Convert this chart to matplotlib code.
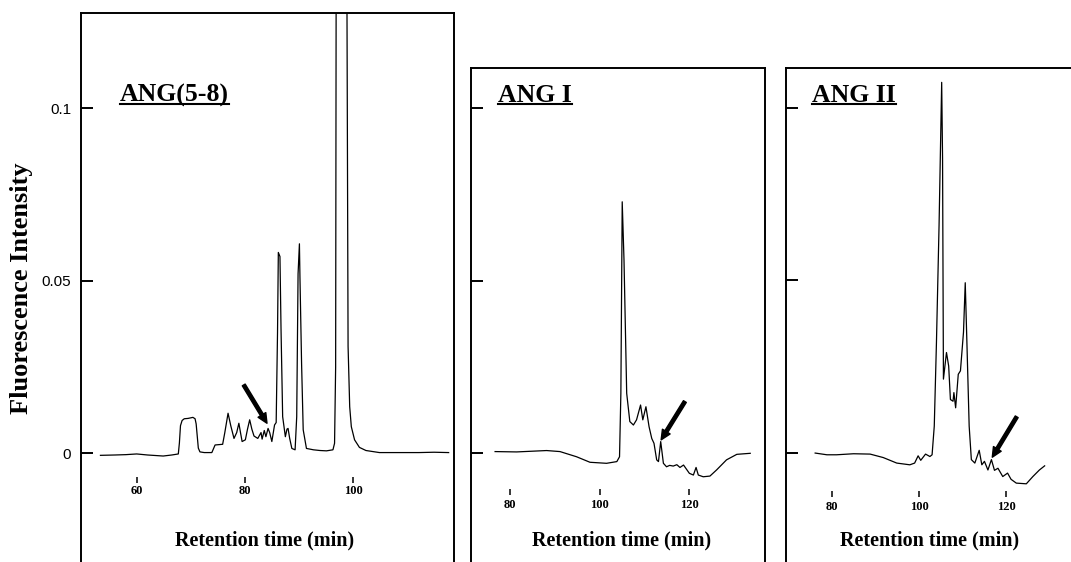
import matplotlib

matplotlib.use("Agg")
import matplotlib.pyplot as plt
from matplotlib.lines import Line2D

# ============================================================================
# Data
# ============================================================================

# ANG(5-8)
t_ang58 = [53.3, 56.0, 58.0, 60.0, 62.0, 64.9, 66.5, 67.7, 67.9, 68.1, 68.4, 68.8,
           69.5, 70.4, 70.8, 71.0, 71.2, 71.4, 71.7, 72.5, 73.9, 74.5, 75.9, 76.3,
           76.9, 77.4, 78.0, 78.5, 78.9, 79.2, 79.5, 80.1, 80.5, 80.9, 81.3, 81.7,
           82.4, 83.0, 83.2, 83.6, 83.9, 84.3, 84.6, 85.0, 85.5, 85.8, 86.05, 86.2,
           86.5, 86.7, 87.0, 87.5, 87.8, 88.0, 88.3, 88.7, 89.3, 89.6, 89.85, 90.1,
           90.2, 90.5, 90.8, 91.4, 92.7, 93.9, 95.1, 96.3, 96.6, 96.8, 96.95, 98.75,
           99.1, 99.4, 99.7, 100.3, 101.2, 102.4, 104.9, 108.0, 112.2, 115.0, 117.7]
f_ang58 = [-0.0006, -0.0005, -0.0004, -0.0002, -0.0005, -0.0008, -0.0005, -0.0002,
           0.0030, 0.0080, 0.0095, 0.0100, 0.0101, 0.0104, 0.0100, 0.0085, 0.0050,
           0.0015, 0.0004, 0.0002, 0.0002, 0.0024, 0.0026, 0.0060, 0.0116, 0.0080,
           0.0043, 0.0060, 0.0087, 0.0060, 0.0034, 0.0039, 0.0070, 0.0097, 0.0070,
           0.0050, 0.0043, 0.0060, 0.0041, 0.0066, 0.0048, 0.0072, 0.0060, 0.0034,
           0.0082, 0.0089, 0.0350, 0.0582, 0.0570, 0.0358, 0.0106, 0.0048, 0.0070,
           0.0072, 0.0043, 0.0014, 0.0010, 0.0106, 0.0520, 0.0607, 0.0510, 0.0260,
           0.0068, 0.0014, 0.0010, 0.0008, 0.0007, 0.0010, 0.0029, 0.0250, 0.2000,
           0.2000, 0.0310, 0.0135, 0.0077, 0.0039, 0.0017, 0.0008, 0.0002, 0.0002,
           0.0002, 0.0003, 0.0002]

# ANG I
t_ang1 = [76.6, 81.4, 88.1, 91.1, 94.8, 97.8, 101.5, 103.8, 104.4, 104.7, 105.0,
          105.4, 106.0, 106.7, 107.5, 108.2, 109.1, 109.6, 110.3, 111.0, 111.6,
          112.1, 112.7, 113.1, 113.6, 114.2, 114.9, 115.6, 116.4, 117.2, 117.9,
          118.7, 120.0, 120.9, 121.5, 122.0, 123.1, 124.6, 126.1, 128.3, 130.6, 133.6]
f_ang1 = [0.0005, 0.0004, 0.0008, 0.0005, -0.0010, -0.0026, -0.0029, -0.0024,
          -0.0010, 0.0174, 0.0729, 0.0560, 0.0174, 0.0092, 0.0082, 0.0097, 0.0140,
          0.0097, 0.0135, 0.0077, 0.0043, 0.0029, -0.0019, -0.0024, 0.0034, -0.0029,
          -0.0039, -0.0035, -0.0037, -0.0033, -0.0041, -0.0034, -0.0058, -0.0063,
          -0.0041, -0.0063, -0.0068, -0.0066, -0.0048, -0.0019, -0.0003, 0.0000]

# ANG II
t_ang2 = [76.2, 78.9, 81.1, 85.0, 88.8, 91.8, 94.9, 97.9, 99.0, 99.8, 100.4, 101.5,
          102.5, 103.0, 103.5, 104.0, 104.6, 105.2, 105.4, 105.6, 106.3, 106.8,
          107.2, 107.8, 108.0, 108.4, 109.0, 109.5, 110.2, 110.6, 111.0, 111.5,
          112.0, 112.8, 113.8, 114.4, 115.0, 115.8, 116.6, 117.3, 118.1, 119.2,
          120.3, 121.1, 122.3, 124.6, 126.1, 127.6, 128.8]
f_ang2 = [0.0000, -0.0005, -0.0005, -0.0002, -0.0003, -0.0013, -0.0029, -0.0034,
          -0.0029, -0.0008, -0.0021, -0.0003, -0.0010, -0.0005, 0.0078, 0.0320,
          0.0660, 0.1073, 0.0854, 0.0214, 0.0291, 0.0252, 0.0155, 0.0150, 0.0175,
          0.0131, 0.0228, 0.0238, 0.0350, 0.0493, 0.0311, 0.0078, -0.0019, -0.0029,
          0.0008, -0.0034, -0.0024, -0.0049, -0.0019, -0.0050, -0.0044, -0.0068,
          -0.0058, -0.0076, -0.0087, -0.0089, -0.0068, -0.0049, -0.0037]

titles = ["ANG(5-8)", "ANG I", "ANG II"]
x_ticks = [[60, 80, 100], [80, 100, 120], [80, 100, 120]]
y_ticks = [0, 0.05, 0.1]
y_tick_labels = ["0", "0.05", "0.1"]

# arrows (tail -> head) marking the product peak
arrows = [((79.8, 0.0198), (84.1, 0.0087)),
          ((119.0, 0.0150), (113.7, 0.0039)),
          ((122.4, 0.0105), (116.8, -0.0012))]

# ============================================================================
# Layout (pixel geometry of the scanned figure)
# ============================================================================

W, H = 1071, 562
SERIF = "Liberation Serif"
SANS = "Liberation Sans"

panels = [
    dict(t=t_ang58, f=f_ang58, box=(81, 453.5, 13.3, 625.8), xlim=(49.7, 118.6),
         ylim=(-0.05, 0.1275), tick_y=-0.0087, tick_pad=1.5, title_x=120,
         xlabel_x=265),
    dict(t=t_ang1, f=f_ang1, box=(470.7, 765, 68.3, 625.8), xlim=(71.15, 136.9),
         ylim=(-0.05, 0.1116), tick_y=-0.0121, tick_pad=3, title_x=498,
         xlabel_x=622),
    dict(t=t_ang2, f=f_ang2, box=(786.5, 1085, 67.5, 625.8), xlim=(69.63, 138.05),
         ylim=(-0.05, 0.1116), tick_y=-0.0126, tick_pad=3, title_x=812,
         xlabel_x=930),
]

fig = plt.figure(figsize=(W / 100, H / 100), dpi=100)

title_texts = []
for i, p in enumerate(panels):
    left, right, top, bottom = p["box"]
    ax = fig.add_axes([left / W, 1 - bottom / H, (right - left) / W, (bottom - top) / H])
    ax.plot(p["t"], p["f"], color="black", lw=0.9)
    ax.set_xlim(*p["xlim"])
    ax.set_ylim(*p["ylim"])

    for side in ["left", "top", "right"]:
        ax.spines[side].set_linewidth(1.4)
    ax.spines["bottom"].set_position(("data", p["tick_y"]))
    ax.spines["bottom"].set_color("none")

    ax.set_xticks(x_ticks[i])
    ax.set_xticklabels([str(v) for v in x_ticks[i]], fontfamily=SERIF,
                       fontweight="bold", fontsize=9)
    ax.tick_params(axis="x", direction="in", length=4.5, width=1.1,
                   pad=p["tick_pad"], top=False)

    ax.set_yticks(y_ticks)
    if i == 0:
        ax.set_yticklabels(y_tick_labels, fontfamily=SANS, fontsize=11)
    else:
        ax.set_yticklabels([])
    ax.tick_params(axis="y", direction="in", length=8.6, width=1.4, pad=7,
                   right=False)

    (x0, y0), (x1, y1) = arrows[i]
    ann = ax.annotate("", xy=(x1, y1), xytext=(x0, y0),
                      arrowprops=dict(arrowstyle="simple,head_length=0.7,"
                                      "head_width=0.65,tail_width=0.24",
                                      color="black", shrinkA=0, shrinkB=0),
                      annotation_clip=False)
    ann.arrow_patch.set_mutation_scale(16)

    txt = fig.text(p["title_x"] / W, 1 - 101.5 / H, titles[i], fontfamily=SERIF,
                   fontweight="bold", fontsize=18.5, ha="left", va="baseline")
    title_texts.append(txt)

    fig.text(p["xlabel_x"] / W, 1 - 540 / H, "Retention time (min)",
             fontfamily=SERIF, fontweight="bold", fontsize=14.5,
             ha="center", va="center")

fig.text(22 / W, 1 - 288 / H, "Fluorescence Intensity", fontfamily=SERIF,
         fontweight="bold", fontsize=19, rotation=90, ha="center", va="center")

# underline the panel titles
fig.canvas.draw()
renderer = fig.canvas.get_renderer()
for txt in title_texts:
    bb = txt.get_window_extent(renderer)
    y_line = 1 - 104 / H
    fig.add_artist(Line2D([bb.x0 / W, bb.x1 / W], [y_line, y_line],
                          color="black", lw=1.5, transform=fig.transFigure))

fig.savefig("out.png", dpi=100)
